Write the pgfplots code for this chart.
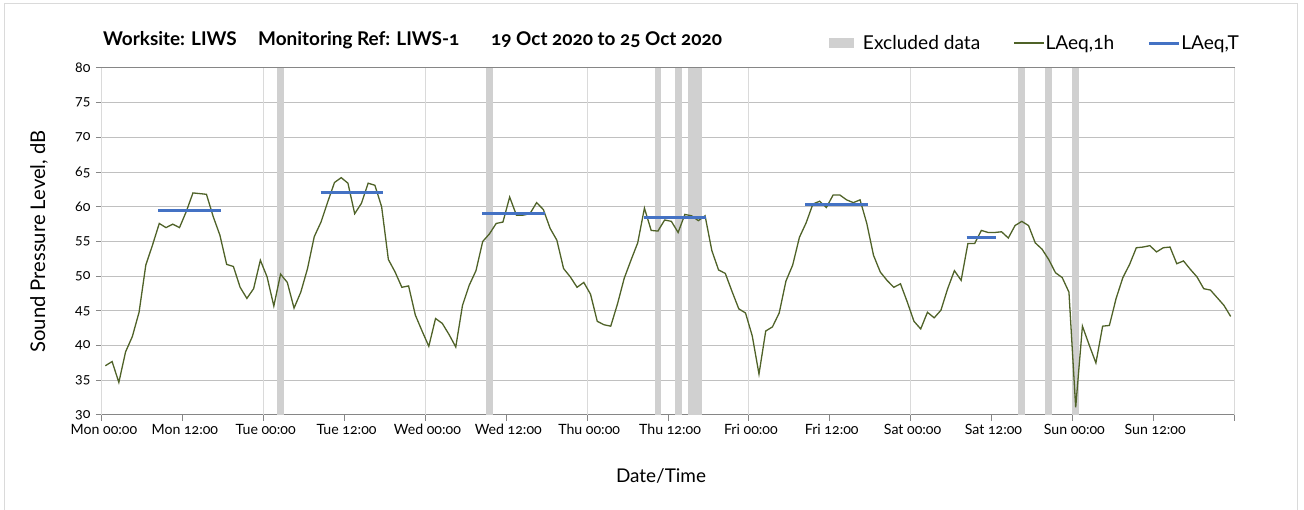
\documentclass[border=0pt]{standalone}
\usepackage{pgfplots}
\usepackage{pgfplotstable}
\pgfplotsset{compat=1.18}
\usepackage{fontspec}
\setmainfont{Lato}[Numbers=OldStyle]
\definecolor{lineG}{HTML}{4F6228}
\definecolor{lineB}{HTML}{4472C4}
\definecolor{excl}{HTML}{D0D0D0}
\definecolor{hgrid}{HTML}{C0C0C0}
\definecolor{vgrid}{HTML}{DADADA}
\definecolor{axl}{HTML}{868686}

\pgfplotstableread{
h v
0.5 37.1
1.5 37.7
2.5 34.7
3.5 39.1
4.5 41.3
5.5 44.8
6.5 51.6
7.5 54.5
8.5 57.6
9.5 57.0
10.5 57.5
11.5 57.0
12.5 59.3
13.5 62.0
14.5 61.9
15.5 61.8
16.5 58.6
17.5 55.9
18.5 51.7
19.5 51.4
20.5 48.4
21.5 46.8
22.5 48.2
23.5 52.3
24.5 49.9
25.5 45.7
26.5 50.3
27.5 49.1
28.5 45.4
29.5 47.7
30.5 51.1
31.5 55.7
32.5 57.8
33.5 60.7
34.5 63.5
35.5 64.2
36.5 63.4
37.5 59.0
38.5 60.5
39.5 63.4
40.5 63.1
41.5 60.0
42.5 52.4
43.5 50.6
44.5 48.4
45.5 48.6
46.5 44.4
47.5 42.1
48.5 39.9
49.5 43.9
50.5 43.2
51.5 41.6
52.5 39.8
53.5 45.8
54.5 48.7
55.5 50.8
56.5 55.0
57.5 56.1
58.5 57.6
59.5 57.8
60.5 61.4
61.5 58.8
62.5 58.8
63.5 59.0
64.5 60.6
65.5 59.6
66.5 56.9
67.5 55.2
68.5 51.1
69.5 49.9
70.5 48.4
71.5 49.1
72.5 47.4
73.5 43.5
74.5 43.0
75.5 42.8
76.5 46.0
77.5 49.7
78.5 52.3
79.5 54.8
80.5 59.8
81.5 56.6
82.5 56.5
83.5 58.1
84.5 57.9
85.5 56.3
86.5 58.9
87.5 58.7
88.5 58.0
89.5 58.7
90.5 53.7
91.5 50.9
92.5 50.4
93.5 47.8
94.5 45.3
95.5 44.7
96.5 41.4
97.5 35.9
98.5 42.1
99.5 42.7
100.5 44.7
101.5 49.3
102.5 51.6
103.5 55.6
104.5 57.7
105.5 60.4
106.5 60.8
107.5 59.9
108.5 61.7
109.5 61.7
110.5 61.0
111.5 60.6
112.5 61.0
113.5 57.6
114.5 53.0
115.5 50.6
116.5 49.4
117.5 48.4
118.5 48.9
119.5 46.3
120.5 43.5
121.5 42.4
122.5 44.8
123.5 44.0
124.5 45.1
125.5 48.2
126.5 50.8
127.5 49.4
128.5 54.7
129.5 54.7
130.5 56.6
131.5 56.3
132.5 56.3
133.5 56.4
134.5 55.5
135.5 57.3
136.5 57.9
137.5 57.3
138.5 54.8
139.5 53.9
140.5 52.4
141.5 50.5
142.5 49.8
143.5 47.7
144.5 31.1
145.5 42.8
146.5 40.1
147.5 37.5
148.5 42.8
149.5 42.9
150.5 46.8
151.5 49.8
152.5 51.7
153.5 54.1
154.5 54.2
155.5 54.4
156.5 53.5
157.5 54.1
158.5 54.2
159.5 51.8
160.5 52.2
161.5 51.0
162.5 49.9
163.5 48.2
164.5 48.0
165.5 46.9
166.5 45.8
167.5 44.2
}\laeq

\pgfplotstableread{
h v
8.3 59.4
17.6 59.4
20 nan
32.45 62.0
41.7 62.0
45 nan
56.4 59.1
65.7 59.1
70 nan
80.4 58.4
89.6 58.4
95 nan
104.4 60.4
113.7 60.4
120 nan
128.3 55.6
132.6 55.6
}\laeqT

\begin{document}
\begin{tikzpicture}[x=1bp,y=1bp]
\begin{axis}[
  name=ax,
  scale only axis, width=1132bp, height=347bp,
  xmin=0, xmax=168, ymin=30, ymax=80,
  xtick={0,12,...,156},
  xticklabels={Mon 00:00,Mon 12:00,Tue 00:00,Tue 12:00,Wed 00:00,Wed 12:00,Thu 00:00,Thu 12:00,Fri 00:00,Fri 12:00,Sat 00:00,Sat 12:00,Sun 00:00,Sun 12:00},
  extra x ticks={0,24,...,168},
  extra x tick labels={},
  extra x tick style={grid=major, major grid style={vgrid, line width=1bp}},
  ytick={30,35,...,80},
  ymajorgrids=true,
  major grid style={hgrid, line width=1bp},
  axis line style={axl, line width=1bp},
  tick style={axl, line width=1bp},
  major tick length=6bp,
  tick align=outside,
  tick pos=left,
  /pgf/number format/assume math mode=true,
  ticklabel style={font=\fontsize{14.2}{17}\selectfont, text=black},
  xticklabel style={xshift=2bp},
  yticklabel style={xshift=-2bp},
  xlabel={Date/Time},
  ylabel={Sound Pressure Level, dB},
  every axis x label/.style={at={(axis description cs:0.4938,-0.1758)}, anchor=center, font=\fontsize{19}{23}\selectfont},
  every axis y label/.style={at={(axis description cs:-0.0557,0.5)}, rotate=90, anchor=center, font=\fontsize{20.3}{23}\selectfont},
  legend columns=3,
  legend style={draw=none, fill=none, at={(axis description cs:0.642,1.072)}, anchor=west,
    font=\fontsize{19.2}{23}\selectfont, inner sep=0pt, nodes={inner sep=1bp},
    /tikz/every even column/.append style={column sep=32bp}},
  unbounded coords=jump,
]
\addlegendimage{legend image code/.code={\fill[excl, draw=none] (0bp,-5bp) rectangle (25bp,5bp); \path[draw=none, fill=none] (0bp,0bp) -- (33bp,0bp);}}
\addlegendentry{Excluded data}
\addplot[fill=excl, draw=none, forget plot] coordinates {(26,80) (27,80)} \closedcycle;
\addplot[fill=excl, draw=none, forget plot] coordinates {(57,80) (58,80)} \closedcycle;
\addplot[fill=excl, draw=none, forget plot] coordinates {(82,80) (83,80)} \closedcycle;
\addplot[fill=excl, draw=none, forget plot] coordinates {(85,80) (86,80)} \closedcycle;
\addplot[fill=excl, draw=none, forget plot] coordinates {(87,80) (89,80)} \closedcycle;
\addplot[fill=excl, draw=none, forget plot] coordinates {(136,80) (137,80)} \closedcycle;
\addplot[fill=excl, draw=none, forget plot] coordinates {(140,80) (141,80)} \closedcycle;
\addplot[fill=excl, draw=none, forget plot] coordinates {(144,80) (145,80)} \closedcycle;
\addplot[lineG, line width=1.3bp, mark=none, legend image code/.code={\draw[lineG, line width=1.3bp] (0bp,0bp) -- (30bp,0bp);}] table[x=h, y=v] {\laeq};
\addlegendentry{LAeq,1h}
\addplot[lineB, line width=3bp, mark=none, legend image code/.code={\draw[lineB, line width=3bp] (0bp,0bp) -- (30bp,0bp);}] table[x=h, y=v] {\laeqT};
\addlegendentry{LAeq,T}
\coordinate (O) at (rel axis cs:0,0);
\end{axis}
\begin{scope}[shift={(O)}]
\path[use as bounding box] (-102,-95) rectangle (1202,415);
\draw[vgrid, line width=1bp] (-97,-98) rectangle (1195,411);
\node[anchor=base west, inner sep=0pt, font=\bfseries\fontsize{19}{23}\selectfont] at (1,369) {Worksite: LIWS};
\node[anchor=base west, inner sep=0pt, font=\bfseries\fontsize{19}{23}\selectfont] at (156,369) {Monitoring Ref: LIWS-1};
\node[anchor=base west, inner sep=0pt, font=\bfseries\fontsize{19}{23}\selectfont] at (389,369) {19 Oct 2020 to 25 Oct 2020};
\end{scope}
\end{tikzpicture}
\end{document}
